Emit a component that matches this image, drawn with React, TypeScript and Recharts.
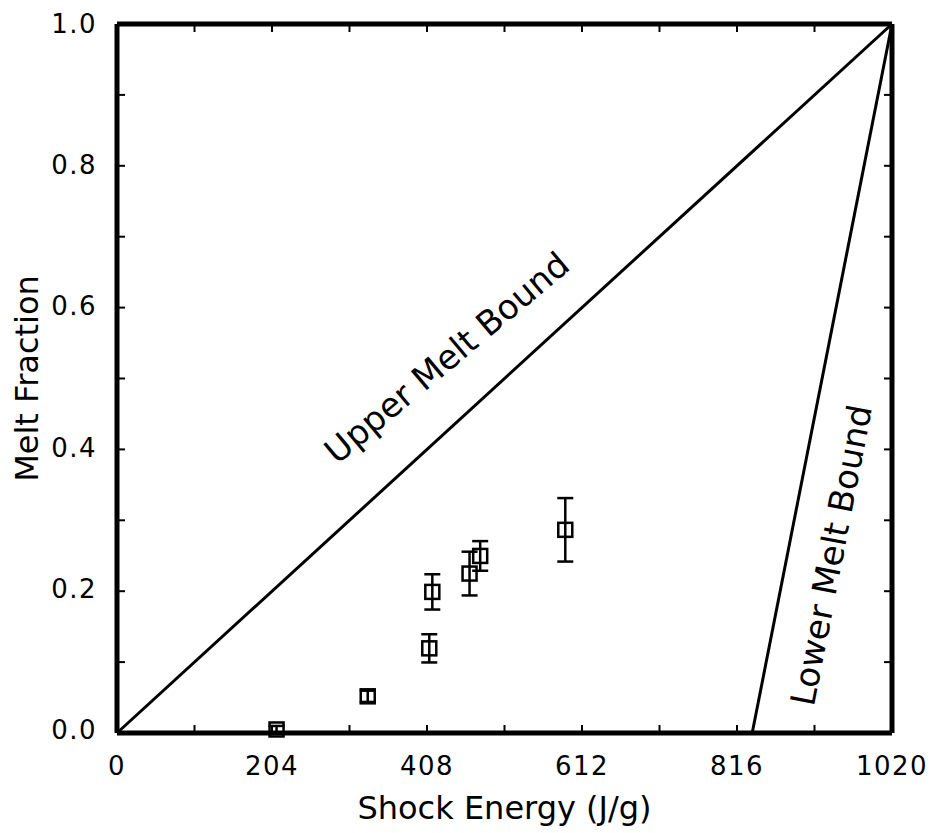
import React from 'react';
import { ComposedChart, Scatter, XAxis, YAxis, ErrorBar, ReferenceDot } from 'recharts';

const shockEnergy = [210, 330, 411, 415, 464, 478, 590];
const meltFraction = [0.0, 0.047, 0.115, 0.195, 0.221, 0.246, 0.283];
const meltError = [0.005, 0.008, 0.02, 0.025, 0.031, 0.021, 0.045];

// bounds
const upperBoundX = [0, 1020];
const upperBoundY = [0, 1];
const lowerBoundX = [836, 1020];
const lowerBoundY = [0, 1];

const xMajorTicks = [0, 204, 408, 612, 816, 1020];
const xAllTicks = [0, 102, 204, 306, 408, 510, 612, 714, 816, 918, 1020];
const yMajorTicks = [0, 0.2, 0.4, 0.6, 0.8, 1.0];
const yAllTicks = [0, 0.1, 0.2, 0.3, 0.4, 0.5, 0.6, 0.7, 0.8, 0.9, 1.0];

const points = shockEnergy.map((x, i) => ({ x, y: meltFraction[i], err: meltError[i] }));
const upper = upperBoundX.map((x, i) => ({ x, y: upperBoundY[i] }));
const lower = lowerBoundX.map((x, i) => ({ x, y: lowerBoundY[i] }));

const FONT = '"DejaVu Sans", sans-serif';
const tickFont = { fill: '#000', fontFamily: FONT, fontSize: 26, letterSpacing: 1.5 };

const SquareMarker = (props: any) => {
  const { cx, cy } = props;
  if (cx == null || cy == null) return null;
  return <rect x={cx - 7} y={cy - 7} width={14} height={14} fill="none" stroke="#000" strokeWidth={2.5} />;
};

const NoShape = () => null;

const rotatedLabel = (text: string, angle: number) => (props: any) => {
  const vb = props.viewBox || {};
  const cx = vb.x + (vb.width || 0) / 2;
  const cy = vb.y + (vb.height || 0) / 2;
  return (
    <text
      x={cx}
      y={cy}
      textAnchor="middle"
      dominantBaseline="central"
      transform={`rotate(${angle}, ${cx}, ${cy})`}
      fontFamily={FONT}
      fontSize={34}
      fill="#000"
    >
      {text}
    </text>
  );
};

export default function App() {
  const hidden = () => '';
  const tickStroke = { stroke: '#000', strokeWidth: 2 };
  const frame = { stroke: '#000', strokeWidth: 5 };
  return (
    <div style={{ position: 'absolute', left: 0, top: 0, background: '#fff' }}>
      <ComposedChart width={932} height={833} margin={{ top: 24, right: 40, bottom: 0, left: 0 }}>
        {/* labelled axes */}
        <XAxis
          xAxisId="b"
          type="number"
          dataKey="x"
          domain={[0, 1020]}
          ticks={xMajorTicks}
          axisLine={frame}
          tickLine={false}
          tickSize={0}
          tick={tickFont}
          tickMargin={24}
          height={100}
          label={{ value: 'Shock Energy (J/g)', position: 'insideBottom', offset: 14, fill: '#000', fontFamily: FONT, fontSize: 32 }}
        />
        <YAxis
          yAxisId="l"
          type="number"
          dataKey="y"
          domain={[0, 1]}
          ticks={yMajorTicks}
          axisLine={frame}
          tickLine={false}
          tickSize={0}
          tick={tickFont}
          tickFormatter={(v: number) => v.toFixed(1)}
          tickMargin={20}
          width={117}
          label={{ value: 'Melt Fraction', angle: -90, position: 'insideLeft', offset: 27, fill: '#000', fontFamily: FONT, fontSize: 32, style: { textAnchor: 'middle' } }}
        />

        {/* inward tick marks on all four sides */}
        <XAxis xAxisId="bIn" type="number" dataKey="x" domain={[0, 1020]} ticks={xAllTicks} mirror axisLine={false} tickSize={8} tickLine={tickStroke} tickFormatter={hidden} height={1} />
        <YAxis yAxisId="lIn" type="number" dataKey="y" domain={[0, 1]} ticks={yAllTicks} mirror axisLine={false} tickSize={8} tickLine={tickStroke} tickFormatter={hidden} width={1} />
        <XAxis xAxisId="t" orientation="top" type="number" dataKey="x" domain={[0, 1020]} ticks={xAllTicks} mirror axisLine={frame} tickSize={8} tickLine={tickStroke} tickFormatter={hidden} height={1} />
        <YAxis yAxisId="r" orientation="right" type="number" dataKey="y" domain={[0, 1]} ticks={yAllTicks} mirror axisLine={frame} tickSize={8} tickLine={tickStroke} tickFormatter={hidden} width={1} />

        <Scatter xAxisId="t" yAxisId="r" data={upper} line={{ stroke: '#000', strokeWidth: 3 }} shape={NoShape} isAnimationActive={false} />
        <Scatter xAxisId="bIn" yAxisId="lIn" data={lower} line={{ stroke: '#000', strokeWidth: 3 }} shape={NoShape} isAnimationActive={false} />
        <Scatter xAxisId="b" yAxisId="l" data={points} shape={SquareMarker} isAnimationActive={false}>
          <ErrorBar dataKey="err" direction="y" width={8} stroke="#000" strokeWidth={2.5} isAnimationActive={false} />
        </Scatter>

        <ReferenceDot xAxisId="b" yAxisId="l" x={434} y={0.527} r={0} fill="none" stroke="none" label={{ content: rotatedLabel('Upper Melt Bound', -40) }} />
        <ReferenceDot xAxisId="b" yAxisId="l" x={940} y={0.247} r={0} fill="none" stroke="none" label={{ content: rotatedLabel('Lower Melt Bound', -79) }} />
      </ComposedChart>
    </div>
  );
}
